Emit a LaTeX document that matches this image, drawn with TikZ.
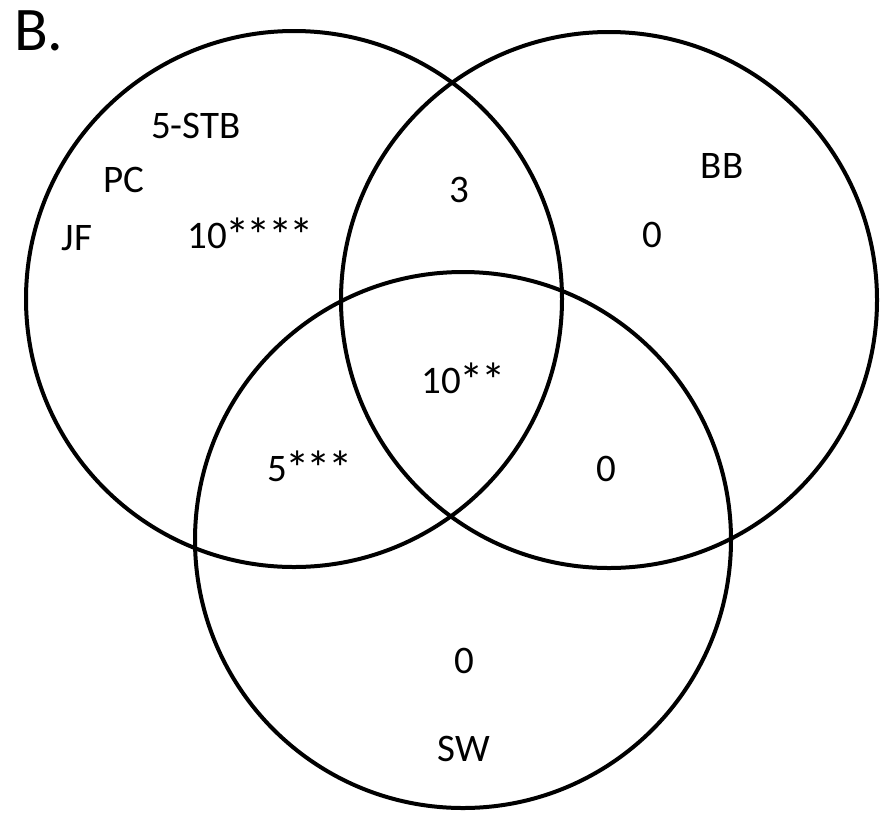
\documentclass[tikz,border=0pt]{standalone}
\usepackage{fontspec}
\usepackage{graphicx}
\setmainfont{Carlito}
\newcommand\vst{\kern-1.5pt\raisebox{-4pt}{\scalebox{1.25}{*}}\kern-1.5pt}
\begin{document}
\begin{tikzpicture}[x=1pt,y=-1pt,
  vcirc/.style={circle,draw=black,line width=4pt,minimum size=536pt,inner sep=0pt},
  lbl/.style={anchor=base,inner sep=0pt,font=\fontsize{39}{44}\selectfont},
  title/.style={anchor=base west,inner sep=0pt,font=\fontsize{62}{70}\selectfont}]
\useasboundingbox[fill=white] (0,0) rectangle (886,812);
\node[vcirc] (L) at (294,299) {};
\node[vcirc] (R) at (609,300) {};
\node[vcirc] (Bc) at (463,540) {};
\node[title] (t) at (14,50) {B.};
\node[lbl] (stb) at (196,138) {5-STB};
\node[lbl] (pc) at (124,192) {PC};
\node[lbl] (jf) at (77,250) {JF};
\node[lbl] (l10) at (250,248) {10\vst\vst\vst\vst};
\node[lbl] (lr) at (459,202) {3};
\node[lbl] (bb) at (722,178) {BB};
\node[lbl] (r0) at (652,247) {0};
\node[lbl] (c10) at (463,393) {10\vst\vst};
\node[lbl] (lb) at (309,481) {5\vst\vst\vst};
\node[lbl] (rb) at (606,481) {0};
\node[lbl] (b0) at (464,673) {0};
\node[lbl] (sw) at (464,761) {SW};
\end{tikzpicture}
\end{document}
